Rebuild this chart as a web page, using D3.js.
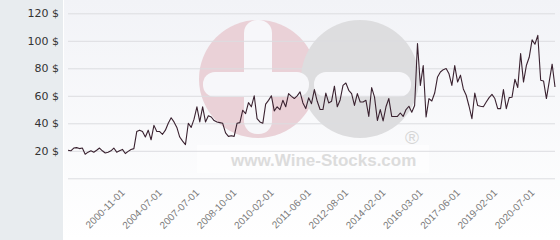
<!DOCTYPE html>
<html><head><meta charset="utf-8">
<script src="https://cdn.jsdelivr.net/npm/d3@7"></script>
<style>html,body{margin:0;padding:0;background:#fff}svg{display:block}</style>
</head><body><svg id="c" width="560" height="240"></svg>
<script>
// Price series (USD), in chronological order, one value per observation
const prices = [20.4,20,22,22.3,21.6,22,17.5,19,20,19,20.4,22,20,18.4,19,20,22,19,20,21,18,19.6,21,21.6,
34,35,34,30,35,28,38.5,34,34,32,35,40,44,41,37,30,27,24.5,40,37,43,52,41,52,41,45.5,44.6,42,41,40.5,40,33,30.5,31,30.5,40,40.5,49.5,47,55,52,60,43.4,41,40,54,56.7,60,49,52,50,56.7,52,61.6,59.6,58,60,62.8,54.8,50.7,58.5,54.3,64.5,56,50,50,62,54.8,56,67,52,57,67.6,69.3,64,61.6,53,61.6,55.5,55.5,56.7,45,66,59,42,50,41.7,52,58,45,45,45,47.5,45,50,52.4,48,53,98,67.6,82,44.6,58,56.2,62,73.7,77.3,79,79.8,76,67.6,82,70,75,65,60.4,52.4,43.4,62,53,52.4,52,55.5,58.7,61,58,50.7,50.7,64.5,50.7,58.7,59,72,66,90.7,70,82,88,100.7,97.5,104,71.3,70.8,58,70.5,83,66.4];
const yTicks = [0,20,40,60,80,100,120];
const xTickLabels = ["2000-11-01","2004-07-01","2007-07-01","2008-10-01","2010-02-01","2011-06-01","2012-08-01","2014-02-01","2016-03-01","2017-06-01","2019-02-01","2020-07-01"];
const xTickFirst = 19, xTickEvery = 13;

const svg = d3.select("#c");
const W = 560, H = 240;
const mLeft = 68, mRight = 555, mTop = 13.3, mBottom = 178.3;

// backgrounds
const defs = svg.append("defs");
const g1 = defs.append("linearGradient").attr("id","bg").attr("x1",0).attr("y1",0).attr("x2",0).attr("y2",1);
g1.append("stop").attr("offset","0%").attr("stop-color","#f2f3f7");
g1.append("stop").attr("offset","100%").attr("stop-color","#ffffff");
svg.append("rect").attr("x",0).attr("y",0).attr("width",63).attr("height",H).attr("fill","#e8ecef");
svg.append("rect").attr("x",64).attr("y",0).attr("width",W-64).attr("height",H).attr("fill","url(#bg)");

const x = d3.scalePoint().domain(d3.range(prices.length)).range([mLeft,mRight]);
const y = d3.scaleLinear().domain([0,120]).range([mBottom,mTop]);

// watermark
const wm = svg.append("g");
wm.append("circle").attr("cx",258).attr("cy",79).attr("r",59).attr("fill","#ead1d7");
wm.append("circle").attr("cx",360).attr("cy",79).attr("r",59).attr("fill","#dddddf");
wm.append("rect").attr("x",244).attr("y",20).attr("width",28).attr("height",114).attr("rx",13).attr("fill","#f7f7fa");
wm.append("rect").attr("x",203).attr("y",72).attr("width",106).attr("height",25).attr("rx",12).attr("fill","#f7f7fa");
wm.append("rect").attr("x",314).attr("y",72).attr("width",97).attr("height",25).attr("rx",12).attr("fill","#f7f7fa");
wm.append("rect").attr("x",197).attr("y",145).attr("width",232).attr("height",28).attr("fill","#ffffff").attr("opacity",0.6);
wm.append("text").attr("x",231).attr("y",166).attr("font-family","Liberation Sans, Arial, sans-serif")
  .attr("font-weight","bold").attr("font-size",17).attr("fill","#dcdcdc").text("www.Wine-Stocks.com");
wm.append("text").attr("x",412).attr("y",144).attr("text-anchor","middle").attr("font-family","Liberation Sans, Arial, sans-serif")
  .attr("font-size",19).attr("fill","#d6d6d6").text("®");

// grid
svg.append("g").selectAll("line").data(yTicks).join("line")
  .attr("x1",mLeft).attr("x2",mRight).attr("y1",d=>y(d)+0.5).attr("y2",d=>y(d)+0.5)
  .attr("stroke","#dcdde0").attr("stroke-width",1);

// y labels
svg.append("g").selectAll("text").data(yTicks.filter(d=>d>0)).join("text")
  .attr("x",59).attr("y",d=>y(d)).attr("dy","0.35em").attr("text-anchor","end")
  .attr("font-family","DejaVu Sans, sans-serif").attr("font-size",11).attr("fill","#333")
  .text(d=>d+" $");

// line
svg.append("path").datum(prices)
  .attr("d", d3.line().x((d,i)=>x(i)).y(d=>y(d)))
  .attr("fill","none").attr("stroke","#3a2230").attr("stroke-width",1.1).attr("stroke-linejoin","round");

// x labels
svg.append("g").selectAll("text").data(xTickLabels).join("text")
  .attr("transform",(d,i)=>`translate(${x(xTickFirst+i*xTickEvery)+3},${mBottom+15}) rotate(-45)`)
  .attr("text-anchor","end")
  .attr("font-family","Liberation Sans, Arial, sans-serif").attr("font-size",10).attr("fill","#7a7a7a")
  .text(d=>d);
</script>
</body></html>
